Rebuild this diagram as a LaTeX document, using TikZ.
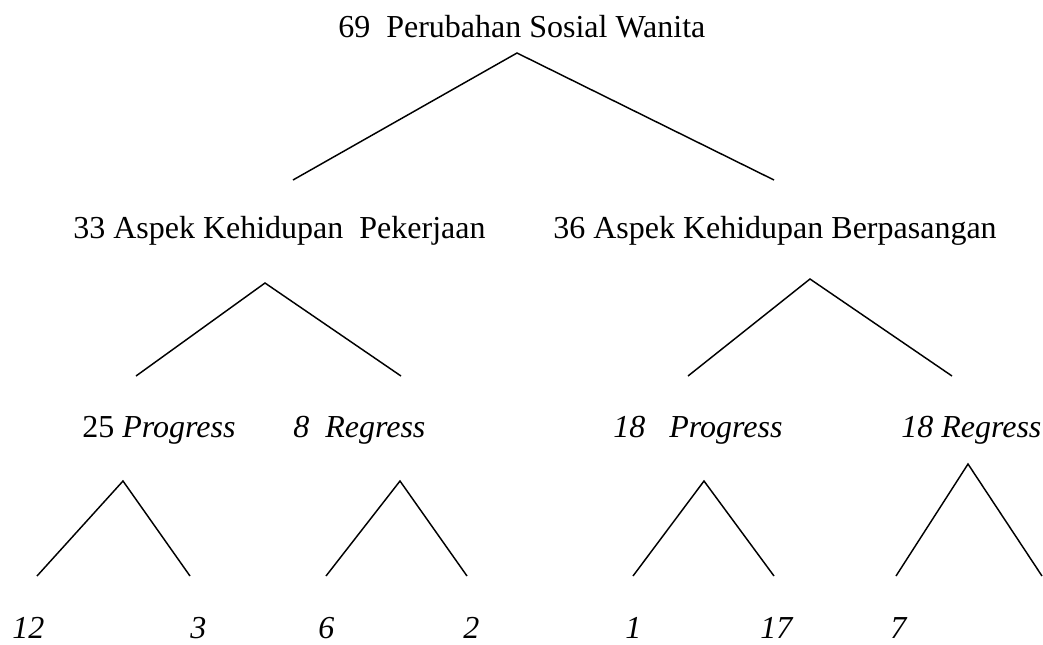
\documentclass[tikz,border=0pt]{standalone}
\usepackage{fontspec}
\setmainfont{Liberation Serif}

\begin{document}
\begin{tikzpicture}[
  x=0.75pt, y=-0.75pt,
  lbl/.style={anchor=base west, inner sep=0pt, font=\fontsize{24}{28}\selectfont},
  leaf/.style={lbl, font=\fontsize{24}{28}\selectfont\itshape},
  leg/.style={line width=1.1pt}
]
\useasboundingbox (0,0) rectangle (1043,644);

% Labels (top to bottom)
\node[lbl] (root) at (338,37) {69\ \ Perubahan Sosial Wanita};

\node[lbl] (kerja)  at (73,238)  {33 Aspek Kehidupan\ \ Pekerjaan};
\node[lbl] (pasang) at (553,238) {36 Aspek Kehidupan Berpasangan};

\node[lbl] (kprog) at (82,437)  {25 \textit{Progress}};
\node[lbl] (kreg)  at (293,437) {\textit{8\ \ Regress}};
\node[lbl] (pprog) at (613,437) {\textit{18\ \ \ Progress}};
\node[lbl] (preg)  at (901,437) {\textit{18 Regress}};

\node[leaf] (n12) at (12,638)  {12};
\node[leaf] (n3)  at (190,638) {3};
\node[leaf] (n6)  at (318,638) {6};
\node[leaf] (n2)  at (463,638) {2};
\node[leaf] (n1)  at (625,638) {1};
\node[leaf] (n17) at (760,638) {17};
\node[leaf] (n7)  at (890,638) {7};

% Branch points
\coordinate (root-t) at (517,53);
\coordinate (root-l) at (293,180);
\coordinate (root-r) at (774,180);

\coordinate (kerja-t) at (265,283);
\coordinate (kerja-l) at (136,376);
\coordinate (kerja-r) at (401,376);

\coordinate (pasang-t) at (810,279);
\coordinate (pasang-l) at (688,376);
\coordinate (pasang-r) at (952,376);

\coordinate (kprog-t) at (123,481);
\coordinate (kprog-l) at (37,576);
\coordinate (kprog-r) at (190,576);

\coordinate (kreg-t) at (400,481);
\coordinate (kreg-l) at (326,576);
\coordinate (kreg-r) at (467,576);

\coordinate (pprog-t) at (704,481);
\coordinate (pprog-l) at (633,576);
\coordinate (pprog-r) at (774,576);

\coordinate (preg-t) at (968,464);
\coordinate (preg-l) at (896,576);
\coordinate (preg-r) at (1042,576);

% Branches
\draw[leg] (root-l) -- (root-t) -- (root-r);
\draw[leg] (kerja-l) -- (kerja-t) -- (kerja-r);
\draw[leg] (pasang-l) -- (pasang-t) -- (pasang-r);
\draw[leg] (kprog-l) -- (kprog-t) -- (kprog-r);
\draw[leg] (kreg-l) -- (kreg-t) -- (kreg-r);
\draw[leg] (pprog-l) -- (pprog-t) -- (pprog-r);
\draw[leg] (preg-l) -- (preg-t) -- (preg-r);

\end{tikzpicture}
\end{document}
